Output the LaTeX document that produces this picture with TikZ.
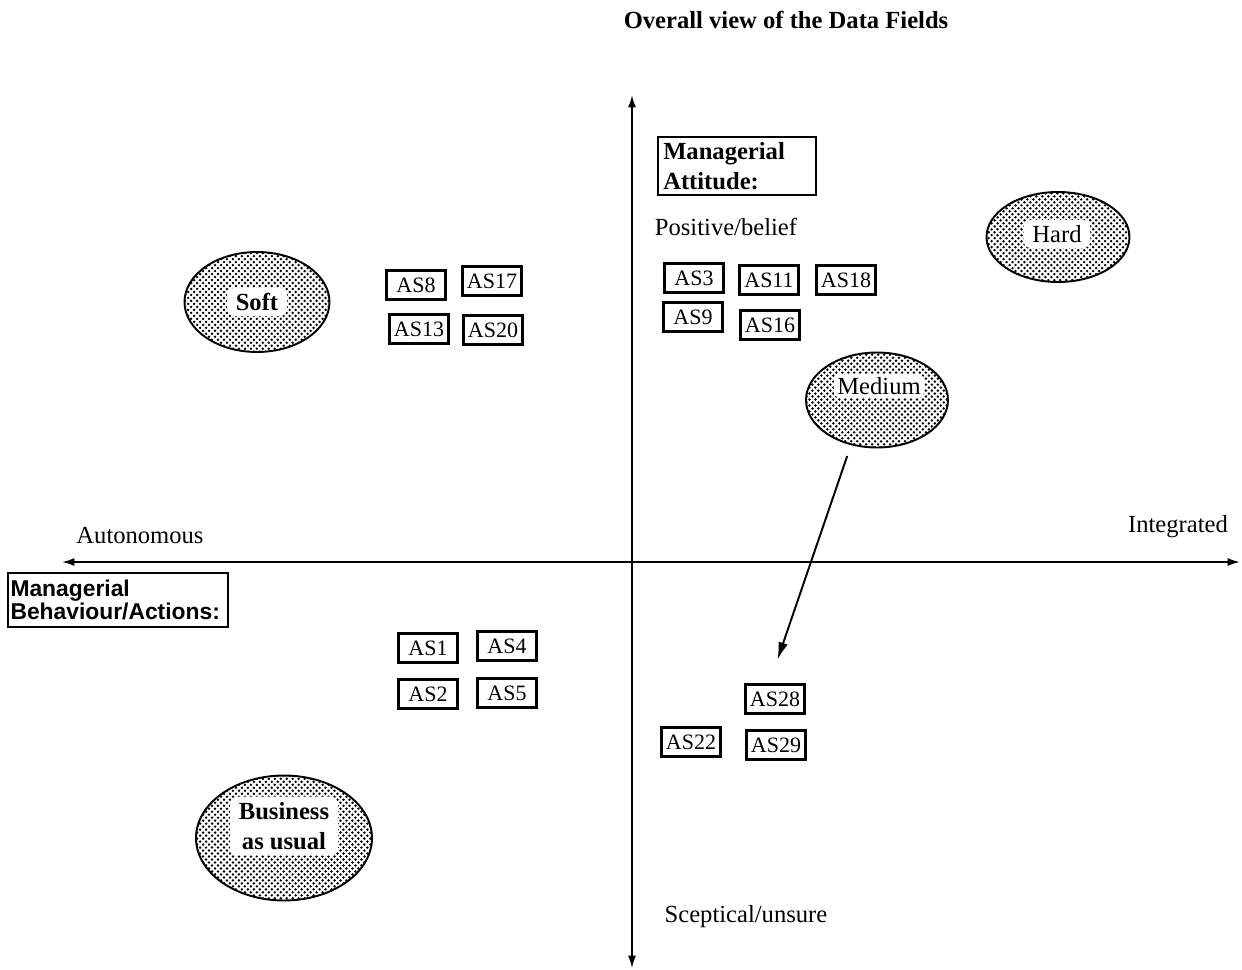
\documentclass[tikz,border=0pt]{standalone}
\usepackage{fontspec}
\setmainfont{Liberation Serif}
\newfontfamily\behfont{Liberation Sans}
\usetikzlibrary{shapes.geometric,patterns,arrows.meta}

\pgfdeclarepatternformonly{scandots}{\pgfqpoint{-1pt}{-1pt}}{\pgfqpoint{3pt}{3pt}}{\pgfqpoint{3.4pt}{3.4pt}}{
	\pgfpathcircle{\pgfqpoint{0pt}{0pt}}{0.78pt}
	\pgfpathcircle{\pgfqpoint{1.7pt}{1.7pt}}{0.78pt}
	\pgfusepath{fill}
}

\begin{document}
\begin{tikzpicture}[x=0.02cm, y=-0.02cm,
	asbox/.style={draw, line width=1.2pt, minimum width=1.18cm, minimum height=0.58cm, inner sep=1pt, font=\fontsize{12.5}{14}\selectfont},
	field/.style={ellipse, draw, line width=1.1pt, pattern=scandots, inner sep=0pt},
	fieldname/.style={fill=white, rounded corners=4pt, inner xsep=5pt, inner ysep=3pt, align=center, font=\fontsize{14}{17.5}\selectfont},
	axislabel/.style={font=\fontsize{14}{17}\selectfont}]
	\useasboundingbox (0,0) rectangle (1242,970);
	
	\node [font=\bfseries\fontsize{14}{17}\selectfont] (title) at (786,20) {Overall view of the Data Fields};
	
	% axes
	\coordinate (west) at (62,562);
	\coordinate (east) at (1240,562);
	\coordinate (north) at (632,95);
	\coordinate (south) at (632,968);
	\draw [{Latex[length=7pt,width=4.5pt]}-{Latex[length=7pt,width=4.5pt]}, line width=1pt] (west) -- (east);
	\draw [{Latex[length=7pt,width=4.5pt]}-{Latex[length=7pt,width=4.5pt]}, line width=1pt] (north) -- (south);
	
	\node [axislabel] (autonomous) at (140,535) {Autonomous};
	\node [axislabel] (integrated) at (1178,527) {Integrated};
	\node [axislabel] (positive) at (726,227) {Positive/belief};
	\node [axislabel] (sceptical) at (746,917) {Sceptical/unsure};
	
	\node [draw, line width=1.2pt, text width=2.95cm, inner sep=3pt, align=left, font=\bfseries\fontsize{14}{17}\selectfont] (attitude) at (737,166) {Managerial\\Attitude:};
	\node [draw, line width=1.2pt, text width=4.3cm, inner xsep=1.5pt, inner ysep=4pt, align=left, font=\behfont\bfseries\fontsize{13}{10.5}\selectfont] (behaviour) at (118,600) {Managerial\\Behaviour/Actions:};
	
	% data fields
	\node [field, minimum width=2.9cm, minimum height=2cm] (soft) at (257,302) {};
	\node [fieldname, font=\bfseries\fontsize{14}{17.5}\selectfont] (softname) at (soft) {Soft};
	\node [field, minimum width=2.86cm, minimum height=1.8cm] (hard) at (1058,237) {};
	\node [fieldname] (hardname) at (1057,234) {Hard};
	\node [field, minimum width=2.84cm, minimum height=1.9cm] (medium) at (877,400) {};
	\node [fieldname, inner xsep=2pt, inner ysep=2pt] (mediumname) at (879,386) {Medium};
	\node [field, minimum width=3.52cm, minimum height=2.5cm] (business) at (284,838) {};
	\node [fieldname, font=\bfseries\fontsize{14}{17.5}\selectfont] (businessname) at (284,826) {Business\\as usual};
	
	% attribute sets
	\foreach \x/\y/\name in {
		416/285/8, 492/281/17, 419/329/13, 493/330/20,
		694/278/3, 769/280/11, 846/280/18, 693/317/9, 770/325/16,
		428/648/1, 507/646/4, 428/694/2, 507/693/5,
		775/699/28, 691/742/22, 776/745/29
	}
	{
		\node [asbox] (as\name) at (\x,\y) {AS\name};
	}
	
	\draw [-{Latex[length=10pt,width=5.5pt]}, line width=1.1pt, shorten <=0.23cm, shorten >=0.5cm] (medium.-120) -- (as28.110);
\end{tikzpicture}
\end{document}
